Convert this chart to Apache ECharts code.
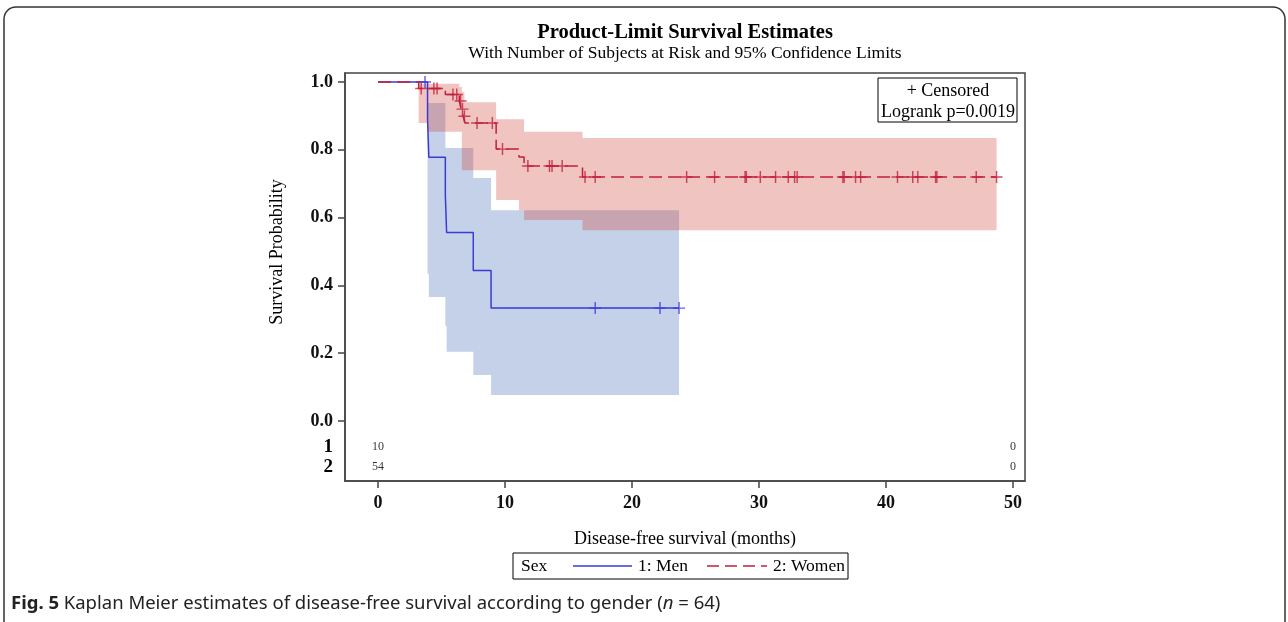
<!DOCTYPE html>
<html>
<head>
<meta charset="utf-8">
<script src="https://cdn.jsdelivr.net/npm/echarts@6/dist/echarts.min.js"></script>
<style>
html, body { margin: 0; padding: 0; background: #fff; }
#km { width: 1288px; height: 622px; }
</style>
</head>
<body>
<div id="km"></div>
<script>
// Sex = 1 (Men): KM steps, censored times, 95% CI
const menTime = [0, 3.9, 4.0, 5.3, 5.4, 7.5, 8.9, 23.7];
const menSurv = [1, 0.889, 0.778, 0.667, 0.556, 0.444, 0.333, 0.333];
const menCensored = [3.7, 17.1, 22.2, 23.7];
const menBandTime = [3.9, 4.0, 5.3, 5.4, 7.5, 8.9, 23.7];
const menLower = [0.434, 0.366, 0.28, 0.204, 0.136, 0.077, 0.077];
const menUpper = [0.938, 0.938, 0.805, 0.805, 0.717, 0.622, 0.622];

// Sex = 2 (Women)
const womenTime = [0, 3.2, 5.3, 6.4, 6.55, 6.7, 6.85, 9.3, 11.1, 11.5, 16.1, 48.7];
const womenSurv = [1, 0.981, 0.963, 0.944, 0.92, 0.899, 0.879, 0.802, 0.779, 0.752, 0.72, 0.72];
const womenCensored = [3.4, 4.4, 4.65, 5.9, 6.2, 6.5, 6.65, 6.8, 7.8, 9.0, 9.8, 11.8, 13.5, 13.7, 14.5,
  16.3, 17.1, 24.3, 26.5, 28.9, 29.0, 30.1, 31.3, 32.3, 32.8, 33.0, 36.6, 36.7, 37.6, 38.0, 40.9,
  42.1, 42.5, 43.9, 44.0, 47.1, 48.7];
const womenBandTime = [3.2, 3.9, 5.3, 6.4, 6.6, 6.8, 9.3, 11.1, 11.5, 16.1, 48.7];
const womenLower = [0.879, 0.853, 0.853, 0.853, 0.74, 0.74, 0.652, 0.622, 0.593, 0.563, 0.563];
const womenUpper = [0.995, 0.995, 0.995, 0.985, 0.97, 0.94, 0.89, 0.89, 0.853, 0.835, 0.835];

// number at risk table
const riskTimes = [0, 50];
const riskMen = [10, 0];
const riskWomen = [54, 0];

const xTicks = [0, 10, 20, 30, 40, 50];
const yTicks = [0, 0.2, 0.4, 0.6, 0.8, 1.0];

const SERIF = '"Liberation Serif", "Times New Roman", serif';
const SANS = '"Noto Sans", sans-serif';
const BLUE = '#3a3ad8';
const RED = '#c21f3c';
const rowMen = -0.077, rowWomen = -0.136;
const plus = 'path://M-0.12,-1H0.12V-0.12H1V0.12H0.12V1H-0.12V0.12H-1V-0.12H-0.12Z';

function survAt(times, surv, t) {
  let s = surv[0];
  for (let i = 0; i < times.length; i++) if (times[i] <= t) s = surv[i];
  return s;
}
const zip = (a, b) => a.map((v, i) => [v, b[i]]);

// stepped confidence band drawn as one polygon through the chart's coordinate system
function bandSeries(name, times, lower, upper, color) {
  return {
    name: name, type: 'custom', silent: true, z: 1,
    data: times.map((t, i) => [t, lower[i], upper[i]]),
    encode: { x: 0, y: [1, 2] },
    renderItem: function (params, api) {
      if (params.dataIndex !== 0) return;
      const pts = [];
      for (let i = 0; i < times.length; i++) {
        if (i > 0) pts.push(api.coord([times[i], upper[i - 1]]));
        pts.push(api.coord([times[i], upper[i]]));
      }
      for (let i = times.length - 1; i >= 0; i--) {
        pts.push(api.coord([times[i], lower[i]]));
        if (i > 0) pts.push(api.coord([times[i], lower[i - 1]]));
      }
      return { type: 'polygon', shape: { points: pts }, style: { fill: color } };
    }
  };
}

const chart = echarts.init(document.getElementById('km'));
chart.setOption({
  backgroundColor: '#fff',
  animation: false,
  textStyle: { fontFamily: SERIF },
  title: [
    { text: 'Product-Limit Survival Estimates', left: 685, textAlign: 'center', top: 22, padding: 0,
      textStyle: { fontFamily: SERIF, fontSize: 20.5, fontWeight: 'bold', color: '#000' } },
    { text: 'With Number of Subjects at Risk and 95% Confidence Limits', left: 685, textAlign: 'center', top: 44, padding: 0,
      textStyle: { fontFamily: SERIF, fontSize: 17.5, fontWeight: 'normal', color: '#000' } },
    { text: '{b|Fig. 5} Kaplan Meier estimates of disease-free survival according to gender ({i|n} = 64)',
      left: 11, top: 594, padding: 0,
      textStyle: { fontFamily: SANS, fontSize: 18.5, fontWeight: 'normal', color: '#222',
        rich: {
          b: { fontFamily: SANS, fontSize: 18.5, fontWeight: 'bold', color: '#222' },
          i: { fontFamily: SANS, fontSize: 18.5, fontStyle: 'italic', color: '#222' }
        } } }
  ],
  grid: { left: 345, right: 263, top: 73, bottom: 141, show: true, borderColor: '#444', borderWidth: 1.5 },
  xAxis: {
    type: 'value', min: -2.6, max: 50.94,
    splitLine: { show: false },
    axisLine: { show: true, onZero: false, lineStyle: { color: '#444', width: 1.5 } },
    axisTick: { show: true, length: 7, customValues: xTicks, lineStyle: { color: '#444', width: 1.5 } },
    axisLabel: { customValues: xTicks, margin: 13, fontSize: 18, fontWeight: 'bold', color: '#111', fontFamily: SERIF },
    name: 'Disease-free survival (months)', nameLocation: 'middle', nameGap: 49,
    nameTextStyle: { fontSize: 18, color: '#000', fontFamily: SERIF }
  },
  yAxis: {
    type: 'value', min: -0.177, max: 1.0265,
    splitLine: { show: false },
    axisLine: { show: true, onZero: false, lineStyle: { color: '#444', width: 1.5 } },
    axisTick: { show: true, length: 7, customValues: yTicks, lineStyle: { color: '#444', width: 1.5 } },
    axisLabel: {
      customValues: [rowWomen, rowMen].concat(yTicks), margin: 12, fontSize: 18, fontWeight: 'bold', color: '#111', fontFamily: SERIF,
      formatter: v => v < -0.1 ? '{r|2}' : (v < 0 ? '{r|1}' : v.toFixed(1)),
      rich: { r: { fontSize: 19, fontWeight: 'bold', color: '#000', fontFamily: SERIF } }
    }
  },
  series: [
    bandSeries('menBand', menBandTime, menLower, menUpper, 'rgba(62,102,178,0.3)'),
    bandSeries('womenBand', womenBandTime, womenLower, womenUpper, 'rgba(205,58,48,0.3)'),
    { name: '1: Men', type: 'line', step: 'end', data: zip(menTime, menSurv), symbol: 'none',
      lineStyle: { color: BLUE, width: 1.5 }, z: 3 },
    { name: '2: Women', type: 'line', step: 'end', data: zip(womenTime, womenSurv), symbol: 'none',
      lineStyle: { color: RED, width: 1.5, type: [13, 6] }, z: 4 },
    { name: 'menCens', type: 'scatter', symbol: plus, symbolSize: 12,
      data: menCensored.map(t => [t, survAt(menTime, menSurv, t)]), itemStyle: { color: BLUE }, z: 5 },
    { name: 'womenCens', type: 'scatter', symbol: plus, symbolSize: 12,
      data: womenCensored.map(t => [t, survAt(womenTime, womenSurv, t)]), itemStyle: { color: RED }, z: 5 },
    { name: 'atRisk', type: 'scatter', symbolSize: 0, silent: true,
      data: riskTimes.map((t, i) => [t, rowMen, riskMen[i]]).concat(riskTimes.map((t, i) => [t, rowWomen, riskWomen[i]])),
      label: { show: true, position: 'inside', formatter: p => String(p.value[2]),
        fontSize: 12, color: '#000', fontFamily: SERIF }, z: 5 }
  ],
  graphic: [
    { type: 'rect', shape: { x: 4, y: 7, width: 1281, height: 640, r: 12 }, style: { fill: 'none', stroke: '#333', lineWidth: 1.5 }, z: 0 },
    { type: 'text', x: 277, y: 252, rotation: Math.PI / 2,
      style: { text: 'Survival Probability', font: '18px ' + SERIF, fill: '#000', align: 'center', verticalAlign: 'middle' } },
    // inset box
    { type: 'rect', shape: { x: 878, y: 78, width: 139, height: 44 }, style: { fill: '#fff', stroke: '#000', lineWidth: 1 }, z: 10 },
    { type: 'text', x: 948, y: 91, z: 11,
      style: { text: '+ Censored', font: '18px ' + SERIF, fill: '#000', align: 'center', verticalAlign: 'middle' } },
    { type: 'text', x: 948, y: 112, z: 11,
      style: { text: 'Logrank p=0.0019', font: '18px ' + SERIF, fill: '#000', align: 'center', verticalAlign: 'middle' } },
    // legend box
    { type: 'rect', shape: { x: 513, y: 553, width: 335, height: 26 }, style: { fill: '#fff', stroke: '#000', lineWidth: 1 } },
    { type: 'text', x: 521, y: 566, style: { text: 'Sex', font: '17.5px ' + SERIF, fill: '#000', verticalAlign: 'middle' } },
    { type: 'line', shape: { x1: 573, y1: 566, x2: 632, y2: 566 }, style: { stroke: BLUE, lineWidth: 1.5 } },
    { type: 'text', x: 638, y: 566, style: { text: '1: Men', font: '17.5px ' + SERIF, fill: '#000', verticalAlign: 'middle' } },
    { type: 'line', shape: { x1: 707, y1: 566, x2: 767, y2: 566 }, style: { stroke: RED, lineWidth: 1.5, lineDash: [12, 6] } },
    { type: 'text', x: 773, y: 566, style: { text: '2: Women', font: '17.5px ' + SERIF, fill: '#000', verticalAlign: 'middle' } }
  ]
});
</script>
</body>
</html>
